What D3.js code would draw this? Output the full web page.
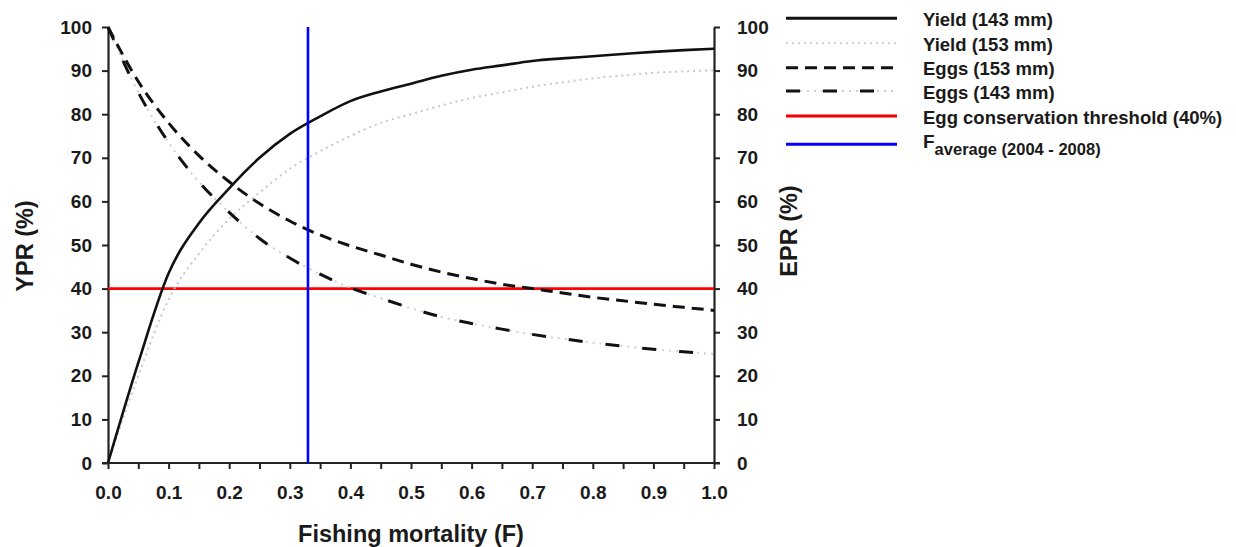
<!DOCTYPE html>
<html><head><meta charset="utf-8">
<script src="https://cdn.jsdelivr.net/npm/d3@7"></script>
<style>
body{margin:0;background:#fff;}
svg{font-family:"Liberation Sans",Arial,sans-serif;font-weight:bold;}
</style></head>
<body><svg id="c" width="1236" height="547"></svg>
<script>
const fishingF = [0,0.05,0.1,0.15,0.2,0.25,0.3,0.35,0.4,0.45,0.5,0.55,0.6,0.65,0.7,0.75,0.8,0.85,0.9,0.95,1.0];
const yield143 = [0,23,43.5,55,63,70,75.5,79.5,83,85.2,87,88.8,90.2,91.2,92.2,92.8,93.3,93.8,94.3,94.7,95];
const yield153 = [0,20,37.5,48,56,62,67.5,71.5,75,78,80,82,83.7,85,86.3,87.3,88.2,88.9,89.5,89.8,90.1];
const eggs153 = [100,87.5,78,70.5,64.5,59.5,55.5,52.3,49.8,47.7,45.6,43.8,42.3,41,40,39,38,37.2,36.4,35.7,35];
const eggs143 = [100,85,73.5,64.5,57.5,51.5,47,43.3,40.2,37.8,35.5,33.5,32,30.7,29.5,28.5,27.6,26.8,26.1,25.5,25];
const threshold = 40;
const fAverage = 0.33;
const xTicks = [0,0.1,0.2,0.3,0.4,0.5,0.6,0.7,0.8,0.9,1.0];
const yTicks = [0,10,20,30,40,50,60,70,80,90,100];
const legendLabels = ["Yield (143 mm)","Yield (153 mm)","Eggs (153 mm)","Eggs (143 mm)","Egg conservation threshold (40%)"];

const svg = d3.select("#c");
const x = d3.scaleLinear().domain([0,1]).range([108,714]);
const y = d3.scaleLinear().domain([0,100]).range([463,27]);
const axisColor = "#222";
const FONT = "'Liberation Sans',Arial,sans-serif";

// axes
const gL = svg.append("g").attr("transform","translate(108,0)")
  .call(d3.axisLeft(y).tickValues(yTicks).tickSize(6).tickSizeOuter(0).tickPadding(10));
const gR = svg.append("g").attr("transform","translate(714,0)")
  .call(d3.axisRight(y).tickValues(yTicks).tickSize(6).tickSizeOuter(0).tickPadding(17));
const gB = svg.append("g").attr("transform","translate(0,463)")
  .call(d3.axisBottom(x).tickValues(d3.range(0,1.0001,0.05)).tickSize(6).tickSizeOuter(0).tickPadding(17)
    .tickFormat(d => { const r = Math.round(d*100); return r%10===0 ? d3.format(".1f")(d) : ""; }));
[gL,gR,gB].forEach(g=>{
  g.selectAll("path.domain").attr("stroke",axisColor).attr("stroke-width",2.2);
  g.selectAll(".tick line").attr("stroke",axisColor).attr("stroke-width",2);
  g.selectAll(".tick text").attr("fill","#1a1a1a").style("font-size","19px").style("font-weight","bold").style("font-family",FONT);
});
gB.select("path.domain").attr("d","M102,0H720");

const pts = arr => fishingF.map((f,i)=>[f,arr[i]]);
const line = d3.line().x(d=>x(d[0])).y(d=>y(d[1])).curve(d3.curveMonotoneX);

// threshold
svg.append("line").attr("x1",x(0)).attr("x2",x(1)).attr("y1",y(threshold)).attr("y2",y(threshold))
  .attr("stroke","#ff0000").attr("stroke-width",2.6);

// curves
svg.append("path").attr("d",line(pts(yield153))).attr("fill","none").attr("stroke","#c8c8c8").attr("stroke-width",2).attr("stroke-dasharray","2,4");
svg.append("path").attr("d",line(pts(eggs143))).attr("fill","none").attr("stroke","#cfcfcf").attr("stroke-width",2).attr("stroke-dasharray","2,5");
svg.append("path").attr("d",line(pts(eggs143))).attr("fill","none").attr("stroke","#111").attr("stroke-width",3).attr("stroke-dasharray","14,23");
svg.append("path").attr("d",line(pts(eggs153))).attr("fill","none").attr("stroke","#111").attr("stroke-width",3).attr("stroke-dasharray","12,7");
svg.append("path").attr("d",line(pts(yield143))).attr("fill","none").attr("stroke","#111").attr("stroke-width",2.6);

// F average
svg.append("line").attr("x1",x(fAverage)).attr("x2",x(fAverage)).attr("y1",y(100)).attr("y2",y(0))
  .attr("stroke","#0000ff").attr("stroke-width",2.6);

// axis titles
svg.append("text").attr("transform","translate(33,246) rotate(-90)").attr("text-anchor","middle")
  .style("font-size","23.5px").attr("fill","#1a1a1a").text("YPR (%)");
svg.append("text").attr("transform","translate(797,231) rotate(-90)").attr("text-anchor","middle")
  .style("font-size","23.5px").attr("fill","#1a1a1a").text("EPR (%)");
svg.append("text").attr("x",411).attr("y",542).attr("text-anchor","middle")
  .style("font-size","23.5px").attr("fill","#1a1a1a").text("Fishing mortality (F)");

// legend
const legY = [18.3,43.3,67.7,91,116,144.3];
const styles = [
  {stroke:"#111",w:3,dash:null},
  {stroke:"#d0d0d0",w:2,dash:"2,4"},
  {stroke:"#111",w:3,dash:"12,7"},
  {stroke:"#111",w:3,dash:"14,23",under:true},
  {stroke:"#ff0000",w:3,dash:null},
  {stroke:"#0000ff",w:3,dash:null}
];
styles.forEach((s,i)=>{
  if (s.under) svg.append("line").attr("x1",786).attr("x2",897).attr("y1",legY[i]).attr("y2",legY[i])
    .attr("stroke","#cfcfcf").attr("stroke-width",2).attr("stroke-dasharray","2,5");
  svg.append("line").attr("x1",786).attr("x2",897).attr("y1",legY[i]).attr("y2",legY[i])
    .attr("stroke",s.stroke).attr("stroke-width",s.w).attr("stroke-dasharray",s.dash);
});
legendLabels.forEach((t,i)=>{
  svg.append("text").attr("x",923).attr("y",legY[i]+7.7).style("font-size","18.5px").attr("fill","#1a1a1a").text(t);
});
const fl = svg.append("text").attr("x",923).attr("y",148).attr("fill","#1a1a1a");
fl.append("tspan").style("font-size","19px").text("F");
fl.append("tspan").attr("dy",7).style("font-size","16.5px").text("average (2004 - 2008)");
</script></body></html>
